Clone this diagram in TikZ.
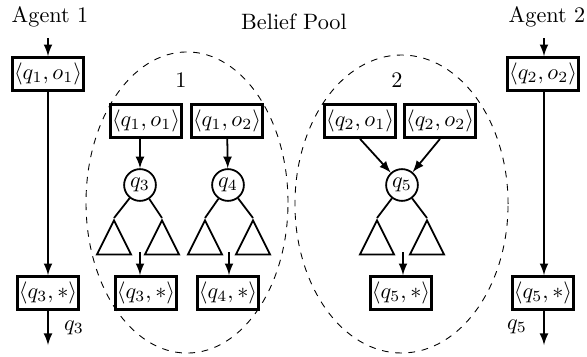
\documentclass[tikz,border=0pt]{standalone}
\usepackage{amsmath,amssymb}
\usepackage{tikz}
\usetikzlibrary{shapes,arrows,calc}

\begin{document}
\begin{tikzpicture}[
  x=0.45pt, y=-0.45pt,
  belief/.style={rectangle, draw, line width=1.2pt, inner xsep=0.6pt, inner ysep=1pt, minimum height=14.9pt},
  query/.style={circle, draw, thick, minimum size=14.3pt, inner sep=0pt},
  subtree/.style={isosceles triangle, isosceles triangle stretches, shape border rotate=90, draw, thick, minimum width=15.4pt, minimum height=15.4pt, inner sep=0pt, anchor=apex},
  pool/.style={ellipse, draw, dashed, inner sep=0pt},
  arrow/.style={->, thick, >=latex},
  edge/.style={thick}
]
\useasboundingbox (0,0) rectangle (587,356);

% Agent 1
\node (ag1) at (50,17) {Agent 1};
\coordinate (a1top) at (48,38);
\node[belief] (a1in) at (48,74) {$\langle q_1, o_1\rangle$};
\node[belief] (a1out) at (48,293) {$\langle q_3, *\rangle$};
\coordinate (a1end) at (48,345);
\node (lq3) at (74,328) {$q_3$};

% Belief pool
\node (title) at (294,22) {Belief Pool};
\node[pool, minimum width=90.9pt, minimum height=135.5pt] (pool1) at (187,202.5) {};
\node[pool, minimum width=95.9pt, minimum height=134.1pt] (pool2) at (401.5,204) {};
\node (p1) at (181,80) {1};
\node (p2) at (397,80) {2};

% Pool 1
\node[belief] (b11) at (146,121) {$\langle q_1, o_1\rangle$};
\node[belief] (b12) at (227,121) {$\langle q_1, o_2\rangle$};
\node[query] (q3) at (140,185) {$q_3$};
\node[query] (q4) at (228,185) {$q_4$};
\node[subtree] (t3l) at (114,218) {};
\node[subtree] (t3r) at (162,218) {};
\node[subtree] (t4l) at (205,218) {};
\node[subtree] (t4r) at (253,218) {};
\coordinate (s3) at (140,252);
\coordinate (s4) at (229,252);
\node[belief] (r3) at (146,293) {$\langle q_3, *\rangle$};
\node[belief] (r4) at (228,293) {$\langle q_4, *\rangle$};

% Pool 2
\node[belief] (b21) at (360,121) {$\langle q_2, o_1\rangle$};
\node[belief] (b22) at (440,121) {$\langle q_2, o_2\rangle$};
\node[query] (q5) at (402,185) {$q_5$};
\node[subtree] (t5l) at (377,218) {};
\node[subtree] (t5r) at (427,218) {};
\coordinate (s5) at (403,252);
\node[belief] (r5) at (401,293) {$\langle q_5, *\rangle$};

% Agent 2
\node (ag2) at (547,17) {Agent 2};
\coordinate (a2top) at (544,38);
\node[belief] (a2in) at (543,74) {$\langle q_2, o_2\rangle$};
\node[belief] (a2out) at (543,293) {$\langle q_5, *\rangle$};
\coordinate (a2end) at (544,345);
\node (lq5) at (517,327) {$q_5$};

% Arrows
\draw[arrow] (a1top) -- (a1in);
\draw[arrow] (a1in) -- (a1out);
\draw[arrow] (a1out) -- (a1end);
\draw[arrow] (a2top) -- (a2top |- a2in.north);
\draw[arrow] (a2top |- a2in.south) -- (a2top |- a2out.north);
\draw[arrow] (a2top |- a2out.south) -- (a2end);

\draw[arrow] (b11.south -| q3) -- (q3);
\draw[arrow] (b12) -- (q4);
\draw[arrow] (b21.south) -- (q5);
\draw[arrow] (b22.south) -- (q5);

\draw[edge] (q3) -- (t3l.apex);
\draw[edge] (q3) -- (t3r.apex);
\draw[edge] (q4) -- (t4l.apex);
\draw[edge] (q4) -- (t4r.apex);
\draw[edge] (q5) -- (t5l.apex);
\draw[edge] (q5) -- (t5r.apex);

\draw[arrow] (s3) -- (s3 |- r3.north);
\draw[arrow] (s4) -- (s4 |- r4.north);
\draw[arrow] (s5) -- (s5 |- r5.north);

\end{tikzpicture}
\end{document}
